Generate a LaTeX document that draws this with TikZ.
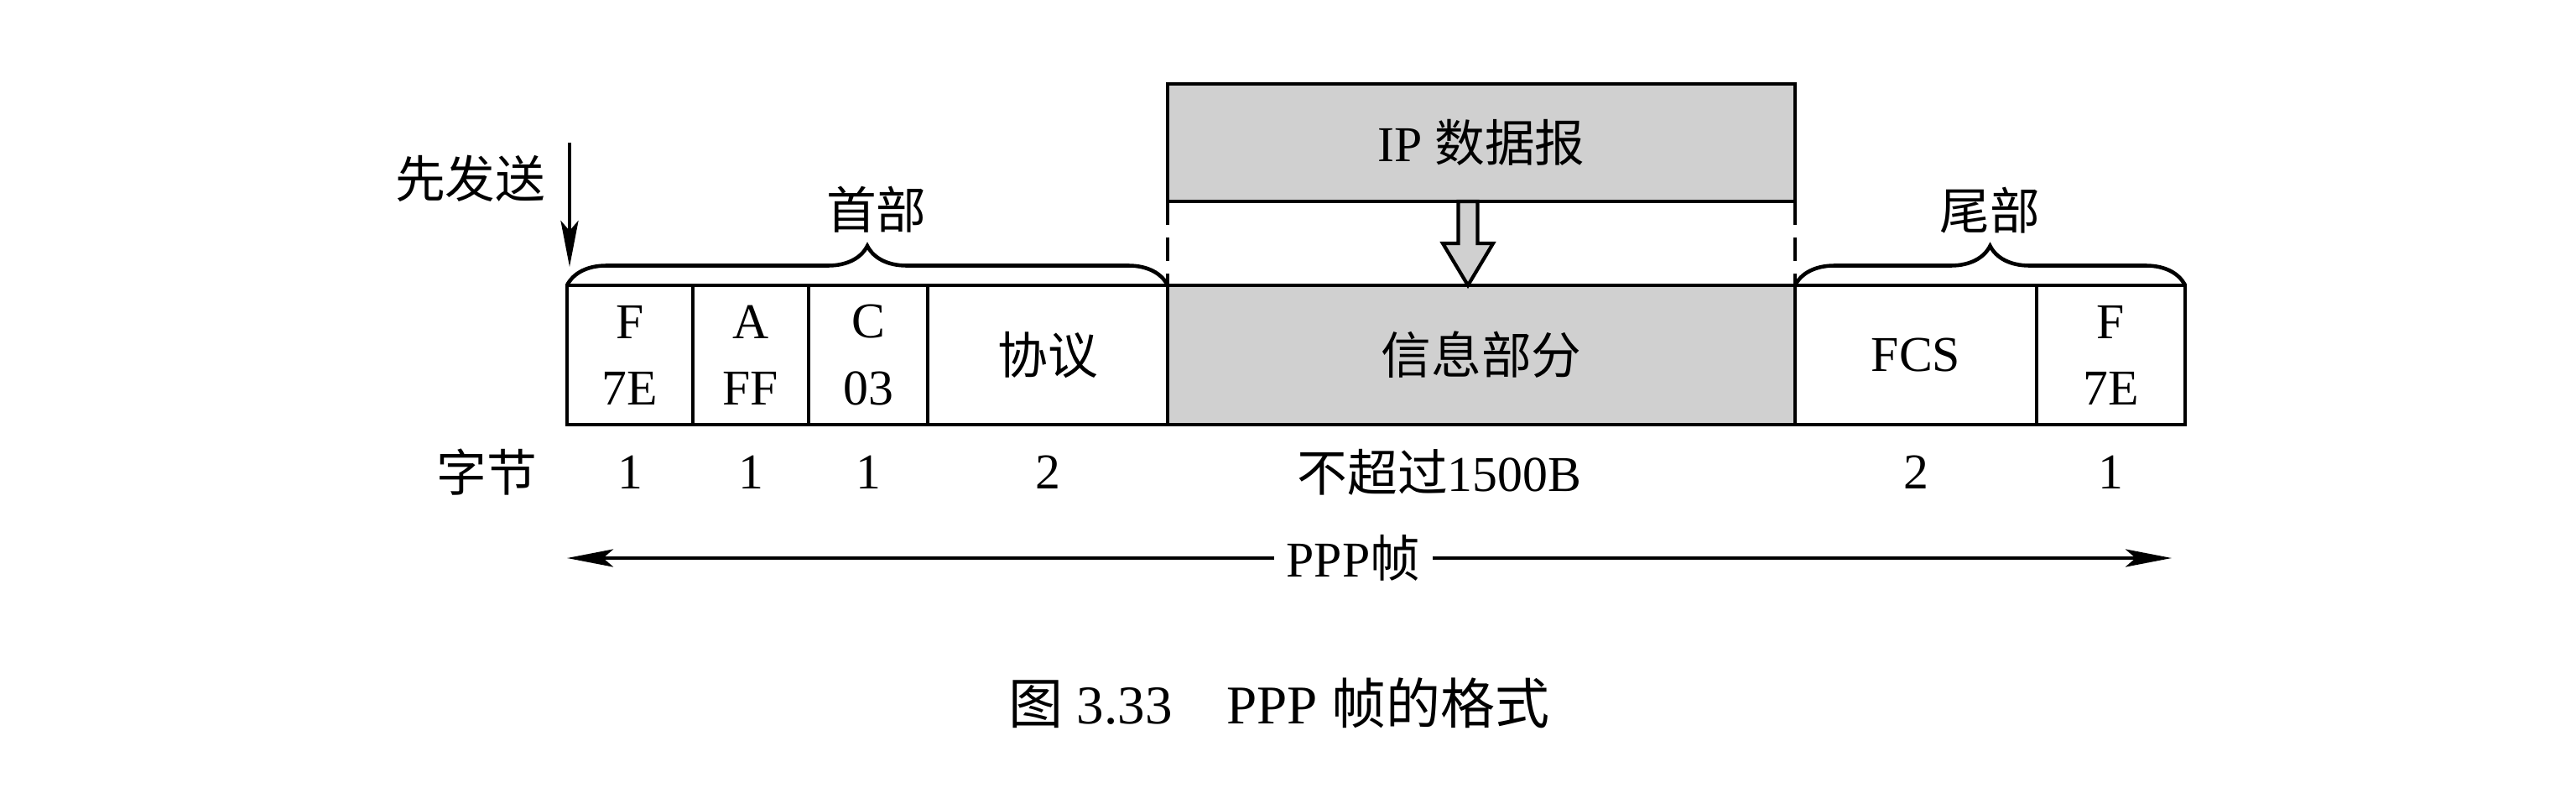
\documentclass[tikz,border=0pt]{standalone}
\usepackage{fontspec}
\setmainfont{Liberation Serif}
\newfontfamily\cjk{Noto Sans CJK SC}
\newcommand{\zh}[1]{{\cjk #1}}
\usepackage{tikz}
\usetikzlibrary{arrows.meta, positioning, calc, decorations.pathreplacing}
\definecolor{datagray}{RGB}{208, 208, 208}

\begin{document}
\begin{tikzpicture}[
    cell/.style={rectangle, draw, line width=1.4pt, minimum height=1.66cm, inner sep=0pt, outer sep=0pt, align=center, font=\fontsize{17}{22.5}\selectfont},
    shaded/.style={fill=datagray},
    lbl/.style={inner sep=0pt, font=\fontsize{17}{22.5}\selectfont},
    brace/.style={decorate, decoration={brace, amplitude=0.47cm}, line width=1.3pt},
    guide/.style={line width=1.1pt, dash pattern=on 0.28cm off 0.15cm},
    arrow/.style={-{Stealth[length=0.55cm, width=0.21cm, inset=0.12cm]}, line width=1.4pt},
    twoway/.style={{Stealth[length=0.55cm, width=0.21cm, inset=0.12cm]}-{Stealth[length=0.55cm, width=0.21cm, inset=0.12cm]}, line width=1.4pt},
    hollow/.style={draw, line width=1.2pt, fill=datagray, line join=miter}
]
\useasboundingbox (0,0) rectangle (30.71,9.63);

\node (flag1) [cell, minimum width=1.50cm, anchor=south west] at (6.76,4.57) {F\\7E};
\node (addr)  [cell, minimum width=1.38cm, right=0pt of flag1] {A\\FF};
\node (ctrl)  [cell, minimum width=1.42cm, right=0pt of addr] {C\\03};
\node (proto) [cell, minimum width=2.86cm, right=0pt of ctrl] {\zh{协议}};
\node (info)  [cell, shaded, minimum width=7.48cm, right=0pt of proto] {\zh{信息部分}};
\node (fcs)   [cell, minimum width=2.88cm, right=0pt of info] {FCS};
\node (flag2) [cell, minimum width=1.77cm, right=0pt of fcs] {F\\7E};
\node (ip)    [cell, shaded, minimum width=7.48cm, minimum height=1.40cm, above=1.0cm of info] {IP \zh{数据报}};

\draw [guide] (ip.south west) -- (info.north west);
\draw [guide] (ip.south east) -- (info.north east);
\draw [hollow] ([xshift=-0.275cm]ip.south) -- ++(0,-0.5) -- ++(-0.185,0) -- ([xshift=-0.16cm]info.north) -- ++(0.30,0.5) -- ++(-0.185,0) -- ++(0,0.5) -- cycle;

\draw [brace] (flag1.north west) -- node[lbl, pos=0.515, above=0.6cm] (head) {\zh{首部}} (info.north west);
\draw [brace] (info.north east) -- node[lbl, midway, above=0.6cm] (tail) {\zh{尾部}} (flag2.north east);

\coordinate (sendtop) at ([xshift=0.03cm, yshift=1.70cm]flag1.north west);
\coordinate (sendtip) at ([xshift=0.03cm, yshift=0.22cm]flag1.north west);
\node (first) [lbl, anchor=east] at ([xshift=-0.28cm, yshift=-0.43cm]sendtop) {\zh{先发送}};
\draw [arrow] (sendtop) -- (sendtip);

\node (bytes) [lbl] at (5.80,4.00) {\zh{字节}};
\node (nflag1) [lbl] at (flag1 |- bytes) {1};
\node (naddr)  [lbl] at (addr |- bytes) {1};
\node (nctrl)  [lbl] at (ctrl |- bytes) {1};
\node (nproto) [lbl] at (proto |- bytes) {2};
\node (ninfo)  [lbl] at ([xshift=-0.5cm]info |- bytes) {\zh{不超过}1500B};
\node (nfcs)   [lbl] at (fcs |- bytes) {2};
\node (nflag2) [lbl] at (flag2 |- bytes) {1};

\coordinate (frameL) at ([yshift=-1.59cm]flag1.south west);
\coordinate (frameR) at ([xshift=-0.16cm, yshift=-1.59cm]flag2.south east);
\draw [twoway] (frameL) -- node[lbl, pos=0.49, fill=white, inner xsep=0.15cm] (ppp) {PPP\zh{帧}} (frameR);

\node (caption) [lbl, font=\fontsize{18.5}{22}\selectfont] at (15.25,1.25) {\zh{图} 3.33\quad PPP \zh{帧的格式}};

\end{tikzpicture}
\end{document}
